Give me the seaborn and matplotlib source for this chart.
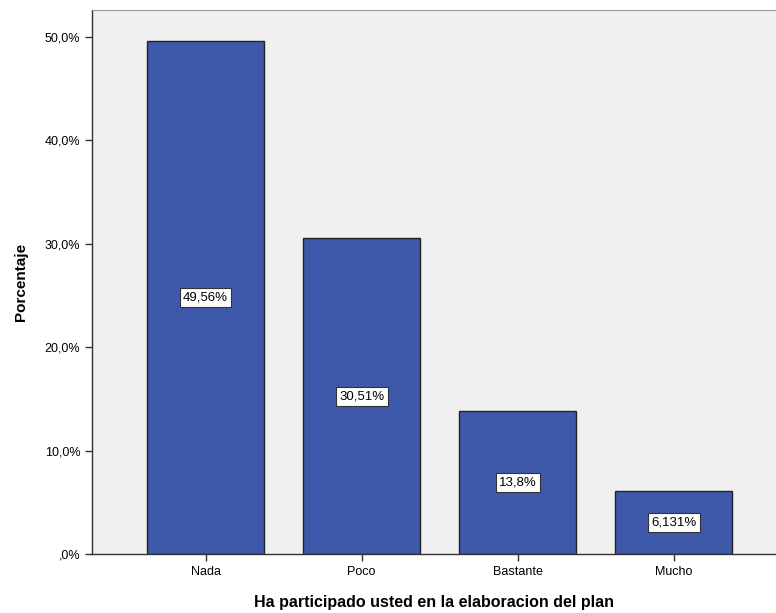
import matplotlib
matplotlib.use('Agg')
import matplotlib.pyplot as plt
import seaborn as sns
import pandas as pd
from matplotlib.ticker import FuncFormatter

# Data
categorias = ['Nada', 'Poco', 'Bastante', 'Mucho']
porcentajes = [49.56, 30.51, 13.8, 6.131]
etiquetas = ['49,56%', '30,51%', '13,8%', '6,131%']

df = pd.DataFrame({'categoria': categorias, 'porcentaje': porcentajes})

sns.set_style('white')
plt.rcParams['font.family'] = ['Liberation Sans', 'DejaVu Sans']
plt.rcParams['text.color'] = 'black'
plt.rcParams['axes.labelcolor'] = 'black'
plt.rcParams['xtick.color'] = 'black'
plt.rcParams['ytick.color'] = 'black'

fig = plt.figure(figsize=(7.76, 6.13), dpi=100)
ax = fig.add_axes([0.1186, 0.0962, 0.8814, 0.8875])
ax.set_facecolor('#F0F0F0')

sns.barplot(x='categoria', y='porcentaje', data=df, color='#3E58AA',
            saturation=1, width=0.75, edgecolor='#222222', linewidth=1, ax=ax)

# Value labels in the middle of each bar
for i, (v, t) in enumerate(zip(porcentajes, etiquetas)):
    ax.text(i, v / 2, t, ha='center', va='center', fontsize=9.5,
            bbox=dict(boxstyle='square,pad=0.25', facecolor='white',
                      edgecolor='#333333', linewidth=0.8))

ax.set_ylim(0, 52.6)
ax.set_xlim(-0.727, 3.654)
ax.set_yticks([0, 10, 20, 30, 40, 50])
ax.yaxis.set_major_formatter(FuncFormatter(
    lambda v, p: ',0%' if v == 0 else f'{v:.1f}%'.replace('.', ',')))

ax.tick_params(axis='both', which='both', length=5, width=1, color='#333333',
               labelsize=9, direction='out', left=True, bottom=True)
for s in ['left', 'bottom']:
    ax.spines[s].set_color('#333333')
    ax.spines[s].set_linewidth(1)
ax.spines['top'].set_color('#999999')
ax.spines['right'].set_visible(False)

ax.set_xlabel('Ha participado usted en la elaboracion del plan',
              fontsize=11.5, fontweight='bold', labelpad=12)
ax.set_ylabel('Porcentaje', fontsize=11, fontweight='bold', labelpad=12)

plt.savefig('out.png', dpi=100)
